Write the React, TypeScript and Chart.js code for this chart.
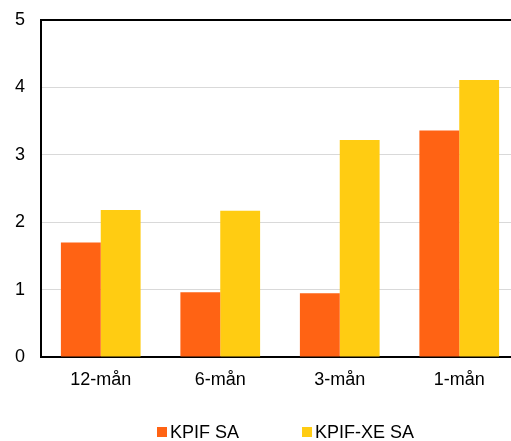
import React, { useEffect, useRef } from 'react';
import { Chart, registerables } from 'chart.js';

Chart.register(...registerables);

const categories = ['12-mån', '6-mån', '3-mån', '1-mån'];
const kpifSA = [1.7, 0.96, 0.945, 3.36];
const kpifXeSA = [2.18, 2.17, 3.22, 4.11];
const seriesLabels = ['KPIF SA', 'KPIF-XE SA'];
const seriesColors = ['#ff6314', '#ffcc12'];
const yMin = 0;
const yMax = 5;
const yStep = 1;

const FONT = 'Arial, "Liberation Sans", sans-serif';

const legendPlugin = {
  id: 'customLegend',
  afterDraw(chart: any) {
    const ctx = chart.ctx;
    ctx.save();
    ctx.font = `18px ${FONT}`;
    ctx.textBaseline = 'alphabetic';
    ctx.textAlign = 'left';
    let x = 157;
    const baseY = 438;
    chart.data.datasets.forEach((ds: any) => {
      ctx.fillStyle = ds.backgroundColor;
      ctx.fillRect(x, baseY - 11, 10, 10);
      ctx.fillStyle = '#000';
      ctx.fillText(ds.label, x + 13, baseY);
      x += 13 + ctx.measureText(ds.label).width + 63;
    });
    ctx.restore();
  },
};

export default function App() {
  const canvasRef = useRef<HTMLCanvasElement | null>(null);

  useEffect(() => {
    if (!canvasRef.current) return;
    const chart = new Chart(canvasRef.current, {
      type: 'bar',
      data: {
        labels: categories,
        datasets: [
          {
            label: seriesLabels[0],
            data: kpifSA,
            backgroundColor: seriesColors[0],
            borderWidth: 0,
            categoryPercentage: 0.667,
            barPercentage: 1,
          },
          {
            label: seriesLabels[1],
            data: kpifXeSA,
            backgroundColor: seriesColors[1],
            borderWidth: 0,
            categoryPercentage: 0.667,
            barPercentage: 1,
          },
        ],
      },
      options: {
        responsive: false,
        animation: false,
        devicePixelRatio: 1,
        layout: { padding: { top: 20, right: 1, left: 0, bottom: 0 } },
        plugins: {
          legend: { display: false },
          tooltip: { enabled: false },
          title: { display: false },
        },
        scales: {
          x: {
            grid: { display: false, drawTicks: false },
            border: { display: true, color: '#000', width: 2 },
            ticks: {
              color: '#000',
              padding: 12,
              font: { family: FONT, size: 18 },
              maxRotation: 0,
            },
            afterFit: (scale: any) => {
              scale.height = 84;
              scale.paddingLeft = 0;
              scale.paddingRight = 0;
            },
          },
          y: {
            min: yMin,
            max: yMax,
            grid: {
              drawTicks: false,
              color: (c: any) => (c.tick && c.tick.value === yMax ? '#000' : '#d9d9d9'),
              lineWidth: (c: any) => (c.tick && c.tick.value === yMax ? 2 : 1),
            },
            border: { display: true, color: '#000', width: 2 },
            ticks: {
              stepSize: yStep,
              color: '#000',
              padding: 16,
              font: { family: FONT, size: 18 },
            },
            afterFit: (scale: any) => {
              scale.width = 41;
              scale.paddingTop = 0;
              scale.paddingBottom = 0;
            },
          },
        },
      },
      plugins: [legendPlugin],
    });
    return () => chart.destroy();
  }, []);

  return (
    <div
      style={{
        position: 'fixed',
        left: 0,
        top: 0,
        width: 511,
        height: 441,
        overflow: 'hidden',
        background: '#fff',
      }}
    >
      <canvas ref={canvasRef} width={520} height={441} style={{ display: 'block' }} />
    </div>
  );
}
